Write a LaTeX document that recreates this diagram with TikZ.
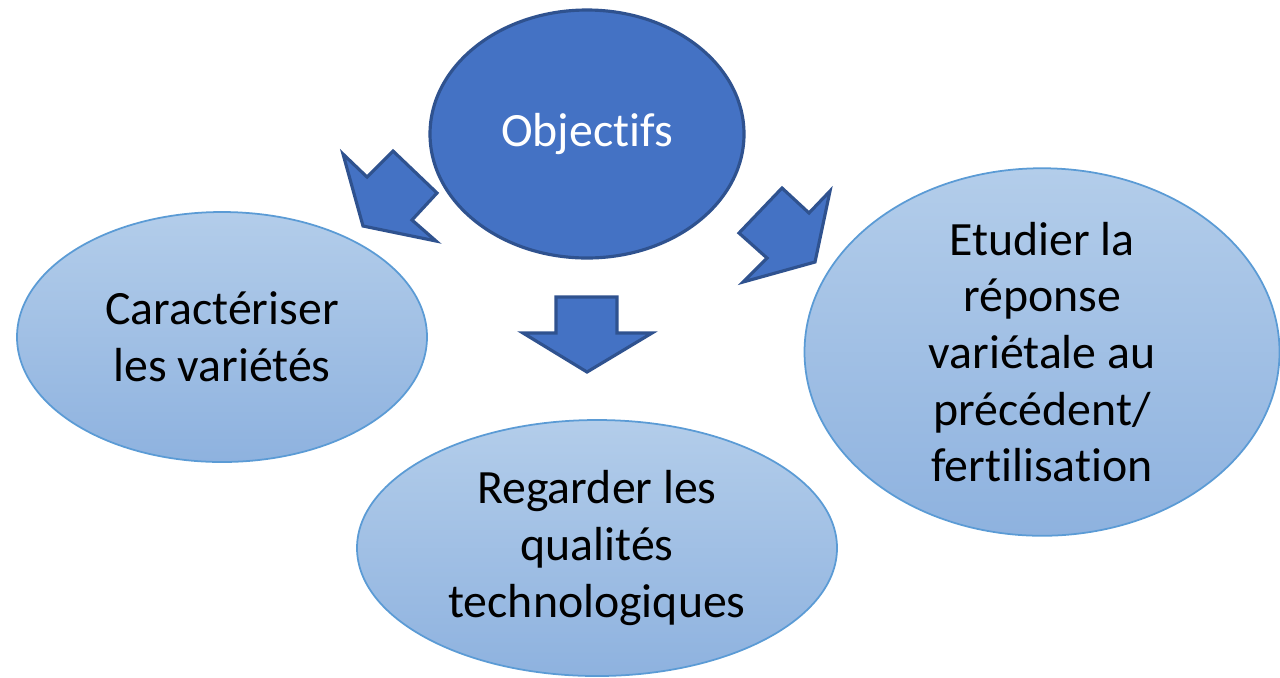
\documentclass[tikz,border=0pt]{standalone}
\usepackage{fontspec}
\setmainfont{Carlito}[Ligatures=NoCommon]
\usetikzlibrary{shapes.geometric}
\definecolor{objblue}{HTML}{4472C4}
\definecolor{objline}{HTML}{2F528F}
\definecolor{lighttop}{HTML}{B3CDEA}
\definecolor{lightbot}{HTML}{8EB2DF}
\definecolor{lightline}{HTML}{5B9BD5}

\begin{document}
\begin{tikzpicture}
\tikzstyle{goal}=[ellipse, draw=objline, line width=0.9pt, fill=objblue, text=white, inner sep=0pt]
\tikzstyle{task}=[ellipse, draw=lightline, line width=0.5pt, top color=lighttop, bottom color=lightbot, align=center, inner sep=0pt]
\tikzstyle{blockarrow}=[draw=objline, line width=0.9pt, fill=objblue, line join=miter]
\useasboundingbox (0,0) rectangle (12.8,6.77);
\fontsize{13.6}{16.1}\selectfont
\node[task, minimum width=4.10cm, minimum height=2.50cm] (carac) at (2.22,3.40) {Caractériser\\les variétés};
\node[task, minimum width=4.80cm, minimum height=2.56cm] (regard) at (5.97,1.29) {Regarder les\\qualités\\technologiques};
\node[task, minimum width=4.75cm, minimum height=3.64cm] (etud) at (10.42,3.25) {Etudier la\\réponse\\variétale au\\précédent/\\fertilisation};
\node[goal, minimum width=3.14cm, minimum height=2.48cm] (obj) at (5.87,5.43) {Objectifs};
% block arrows
\draw[blockarrow] (3.63,4.51) -- (3.43,5.23) -- (3.67,5.00) -- (3.93,5.26) -- (4.37,4.84) -- (4.12,4.57) -- (4.36,4.36) -- cycle; %
\draw[blockarrow] (5.56,3.80) -- (6.17,3.80) -- (6.17,3.44) -- (6.52,3.44) -- (5.87,3.05) -- (5.23,3.44) -- (5.56,3.44) -- cycle; %
\draw[blockarrow] (7.39,4.44) -- (7.82,4.89) -- (8.09,4.64) -- (8.30,4.86) -- (8.15,4.15) -- (7.43,3.95) -- (7.67,4.19) -- cycle; %
\end{tikzpicture}
\end{document}
